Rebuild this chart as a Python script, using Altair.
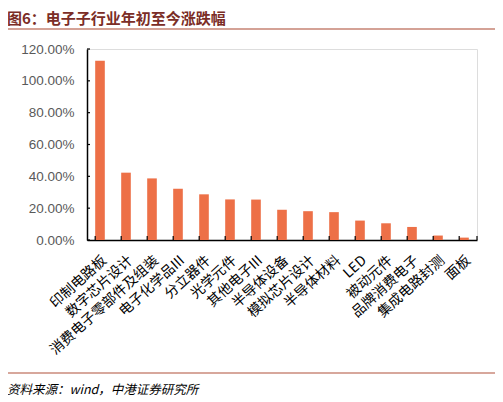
import altair as alt
import pandas as pd

categories = ["印制电路板", "数字芯片设计", "消费电子零部件及组装", "电子化学品III", "分立器件",
              "光学元件", "其他电子III", "半导体设备", "模拟芯片设计", "半导体材料",
              "LED", "被动元件", "品牌消费电子", "集成电路封测", "面板"]
values = [112.6, 42.3, 38.7, 32.2, 28.7, 25.5, 25.4, 19.0, 18.1, 17.5, 12.2, 10.5, 8.2, 2.8, 1.5]
y_ticks = [0, 20, 40, 60, 80, 100, 120]

df = pd.DataFrame({"cat": categories, "val": [v / 100 for v in values]})
ticks_df = pd.DataFrame({"t": [t / 100 for t in y_ticks]})

W, H = 390, 191
FONT = "Noto Sans CJK SC"
BAR = "#ED7047"

ys = alt.Scale(domain=[0, 1.2], nice=False)
xs = alt.Scale(paddingInner=0.63, paddingOuter=0.315)

x_axis = alt.Axis(title=None, labelAngle=-42, labelFont=FONT, labelFontSize=14,
                  labelColor="#000000", ticks=False, domainColor="#000000",
                  domainWidth=1.5, labelPadding=13, labelLimit=250)
y_axis = alt.Axis(title=None, values=[t / 100 for t in y_ticks], format=".2%",
                  grid=False, ticks=False, domainColor="#000000", domainWidth=1.5,
                  labelFont="Liberation Sans", labelFontSize=13.5, labelOverlap=False,
                  labelColor="#595959", labelPadding=13)

bars = alt.Chart(df).mark_bar(color=BAR).encode(
    x=alt.X("cat:N", sort=categories, scale=xs, axis=x_axis),
    y=alt.Y("val:Q", scale=ys, axis=y_axis),
)

ytick = alt.Chart(ticks_df).mark_rule(color="#000000", strokeWidth=1.2).encode(
    y=alt.Y("t:Q", scale=ys, axis=y_axis),
    x=alt.value(0), x2=alt.value(3),
)

xtick = alt.Chart(df).mark_rule(color="#000000", strokeWidth=1.2).encode(
    x=alt.X("cat:N", sort=categories, scale=xs, bandPosition=0, axis=x_axis),
    y=alt.value(H), y2=alt.value(H - 4),
)
xtick_end = alt.Chart(df.head(1)).mark_rule(color="#000000", strokeWidth=1.2).encode(
    x=alt.value(W), y=alt.value(H), y2=alt.value(H - 4),
)

title = alt.Chart(df.head(1)).mark_text(
    text="图6：电子子行业年初至今涨跌幅", font=FONT, fontSize=15, fontWeight="bold",
    color="#7B2D26", align="left", baseline="middle",
).encode(x=alt.value(-80), y=alt.value(-30))

top_line = alt.Chart(df.head(1)).mark_rule(color="#A9462F", strokeWidth=1.2).encode(
    x=alt.value(-81), x2=alt.value(410), y=alt.value(-20),
)
bottom_line = alt.Chart(df.head(1)).mark_rule(color="#B0503A", strokeWidth=1.2).encode(
    x=alt.value(-81), x2=alt.value(410), y=alt.value(H + 133),
)
source = alt.Chart(df.head(1)).mark_text(
    text="资料来源：wind，中港证券研究所", font=FONT, fontSize=12.5, fontStyle="italic",
    color="#000000", align="left", baseline="middle",
).encode(x=alt.value(-80), y=alt.value(H + 150))

chart = alt.layer(bars, ytick, xtick, xtick_end, title, top_line, bottom_line, source).properties(
    width=W, height=H,
    padding={"left": 79, "top": 41, "right": 18, "bottom": 160},
    autosize=alt.AutoSizeParams(type="none"),
).configure_view(stroke=None).configure(background="#ffffff")

chart.save("out.html", embed_options={"renderer": "svg", "actions": False})
